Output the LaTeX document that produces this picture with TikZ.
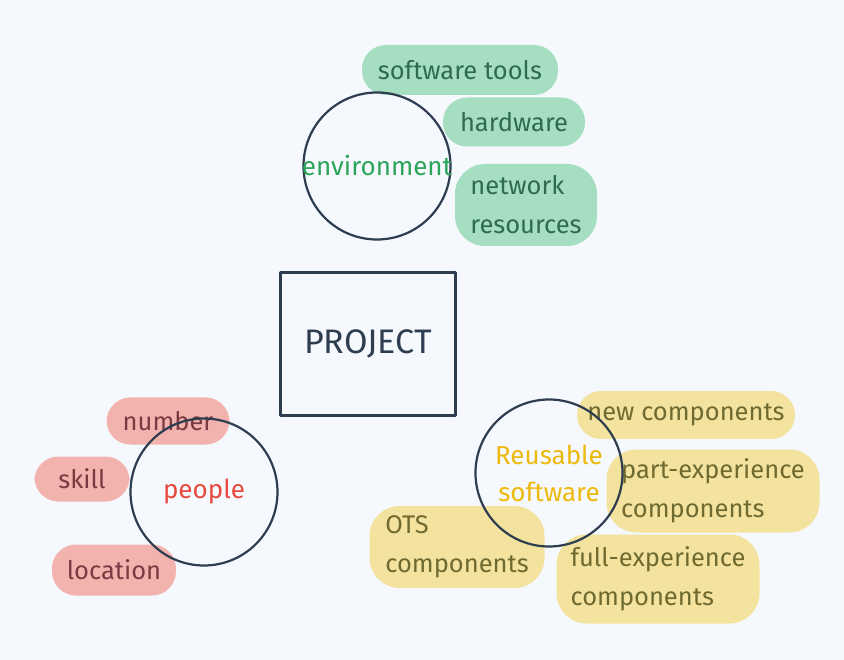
\documentclass[tikz,border=0pt]{standalone}
\usepackage{fontspec}
\setmainfont{Fira Sans}
\definecolor{bg}{HTML}{F5F9FD}
\definecolor{ink}{HTML}{2E3D4F}
\definecolor{envgreen}{HTML}{2BA55A}
\definecolor{greenfill}{HTML}{A6DEC1}
\definecolor{greentext}{HTML}{2F6B50}
\definecolor{pplred}{HTML}{E8493F}
\definecolor{redfill}{HTML}{F2B2AE}
\definecolor{redtext}{HTML}{7A3A42}
\definecolor{reuseyellow}{HTML}{EDB90C}
\definecolor{yellowfill}{HTML}{F4E39E}
\definecolor{yellowtext}{HTML}{6E6A30}
\tikzset{
  blob/.style={rounded corners=24pt, inner sep=0pt, align=left},
  greenblob/.style={blob, fill=greenfill, text=greentext},
  redblob/.style={blob, fill=redfill, text=redtext},
  yellowblob/.style={blob, fill=yellowfill, text=yellowtext},
  ring/.style={draw=ink, line width=2.2pt, circle, minimum size=147pt, inner sep=0pt},
  ringlabel/.style={font=\fontsize{26}{37}\selectfont, align=center},
}
\begin{document}
\begin{tikzpicture}[x=1pt, y=-1pt, line join=round, line cap=round,
  font=\fontsize{25.5}{39}\selectfont]
\fill[bg] (0,0) rectangle (844,660);
\useasboundingbox (0,0) rectangle (844,660);
\node[greenblob, minimum width=196pt, minimum height=50pt] (tools) at (460,70) {software tools};
\node[greenblob, minimum width=142pt, minimum height=49pt] (hw) at (514,122) {hardware};
\node[greenblob, minimum width=142pt, minimum height=82pt, rounded corners=30pt] (net) at (526,205) {network\\resources};
\node[redblob, minimum width=123pt, minimum height=47pt] (num) at (168,421) {number};
\node[redblob, minimum width=95pt, minimum height=45pt] (skill) at (82,479) {skill};
\node[redblob, minimum width=124pt, minimum height=51pt] (loc) at (114,570) {location};
\node[yellowblob, minimum width=218pt, minimum height=48pt] (newc) at (686,415) {new components};
\node[yellowblob, minimum width=213pt, minimum height=83pt, rounded corners=30pt] (partc) at (713,491) {part-experience\\components};
\node[yellowblob, minimum width=175pt, minimum height=82pt, rounded corners=30pt] (otsc) at (457,547) {OTS\\components};
\node[yellowblob, minimum width=203pt, minimum height=89pt, rounded corners=30pt] (fullc) at (658,579) {full-experience\\components};
\node[ring] (env) at (377,166) {};
\node[ring] (ppl) at (204,492) {};
\node[ring] (reuse) at (549,473) {};
\node[ringlabel, text=envgreen] at (env) {environment};
\node[ringlabel, text=pplred] at (ppl) {people};
\node[ringlabel, text=reuseyellow] at (reuse) {Reusable\\software};
\node[draw=ink, line width=2.2pt, minimum width=175pt, minimum height=143pt,
  text=ink, font=\fontsize{34}{40}\selectfont] (proj) at (368,344) {PROJECT};
\end{tikzpicture}
\end{document}
